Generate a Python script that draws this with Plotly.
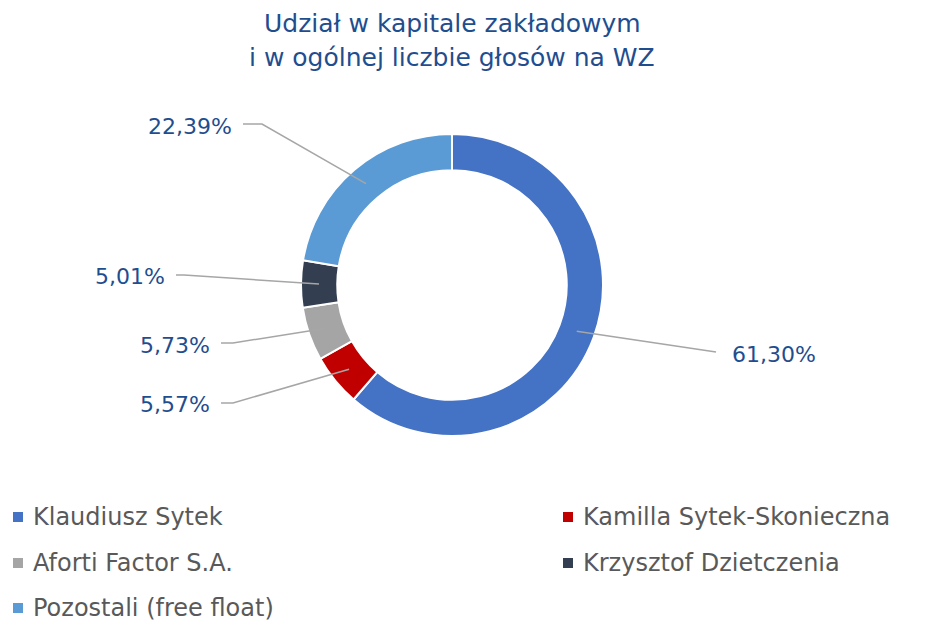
import math
import plotly.graph_objects as go

# ---- data ----
names = ["Klaudiusz Sytek", "Kamilla Sytek-Skonieczna", "Aforti Factor S.A.",
         "Krzysztof Dzietczenia", "Pozostali (free float)"]
shares = [61.30, 5.57, 5.73, 5.01, 22.39]
label_texts = ["61,30%", "5,57%", "5,73%", "5,01%", "22,39%"]
colors = ["#4472C4", "#C00000", "#A5A5A5", "#333F50", "#5B9BD5"]
title_lines = ["Udział w kapitale zakładowym", "i w ogólnej liczbie głosów na WZ"]

W, H = 927, 621
CX, CY, R_OUT = 452, 285, 151
HOLE = 0.76
R_LINE = 133

def px(x):
    return x / W

def py(y):
    return 1 - y / H

FONT = "DejaVu Sans"
BLUE = "#1F4E8F"
GREY = "#595959"

fig = go.Figure(go.Pie(
    labels=names, values=shares, sort=False, direction="clockwise", rotation=0,
    hole=HOLE, marker=dict(colors=colors, line=dict(color="white", width=2)),
    textinfo="none", hoverinfo="label+percent", showlegend=False,
    domain=dict(x=[px(CX - R_OUT), px(CX + R_OUT)], y=[py(CY + R_OUT), py(CY - R_OUT)]),
))

# label layout (pixel positions of text anchor and elbow), per slice
label_pos = [
    dict(tx=730, ty=354, side="left", ex=716, ey=352),
    dict(tx=212, ty=404, side="right", ex=233, ey=403),
    dict(tx=212, ty=345, side="right", ex=233, ey=343),
    dict(tx=167, ty=276, side="right", ex=184, ey=275),
    dict(tx=234, ty=126, side="right", ex=262, ey=124),
]

shapes = []
annotations = []
total = sum(shares)
cum = 0.0
for v, txt, lp in zip(shares, label_texts, label_pos):
    mid = (cum + v / 2) / total * 2 * math.pi
    cum += v
    sx = CX + R_LINE * math.sin(mid)
    sy = CY - R_LINE * math.cos(mid)
    if lp["side"] == "right":
        x0 = lp["tx"] + 9
    else:
        x0 = lp["tx"] - 14
    path = f"M {px(x0)} {py(lp['ey'])} L {px(lp['ex'])} {py(lp['ey'])} L {px(sx)} {py(sy)}"
    shapes.append(dict(type="path", xref="paper", yref="paper", path=path,
                       line=dict(color="#A6A6A6", width=1.5)))
    annotations.append(dict(
        x=px(lp["tx"]), y=py(lp["ty"]), xref="paper", yref="paper",
        text=txt, showarrow=False,
        xanchor="right" if lp["side"] == "right" else "left", yanchor="middle",
        font=dict(family=FONT, size=22, color=BLUE)))

# title lines
for i, t in enumerate(title_lines):
    annotations.append(dict(
        x=px(452), y=py(24 + 34 * i), xref="paper", yref="paper", text=t,
        showarrow=False, xanchor="center", yanchor="middle",
        font=dict(family=FONT, size=25, color=BLUE)))

# manual legend
leg_pos = [(18, 517), (568, 517), (18, 563), (568, 563), (18, 608)]
for nm, col, (lx, ly) in zip(names, colors, leg_pos):
    shapes.append(dict(type="rect", xref="paper", yref="paper",
                       x0=px(lx - 5), x1=px(lx + 5), y0=py(ly + 5), y1=py(ly - 5),
                       fillcolor=col, line=dict(width=0)))
    annotations.append(dict(
        x=px(lx + 13), y=py(ly), xref="paper", yref="paper", text=nm,
        showarrow=False, xanchor="left", yanchor="middle",
        font=dict(family=FONT, size=24, color=GREY)))

fig.update_layout(
    width=W, height=H, margin=dict(l=0, r=0, t=0, b=0),
    paper_bgcolor="white", plot_bgcolor="white",
    shapes=shapes, annotations=annotations,
)

fig.write_html("out.html", config={"displayModeBar": False},
               post_script="document.body.style.margin='0';")
